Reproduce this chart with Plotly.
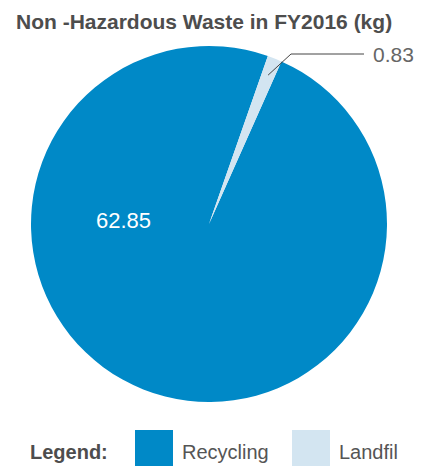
import math
import plotly.graph_objects as go

# Waste streams and quantities (kg)
categories = ["Recycling", "Landfil"]
values = [62.85, 0.83]
colors = ["#0089c7", "#d3e5f1"]
title_text = "Non -Hazardous Waste in FY2016 (kg)"

W, H = 421, 466
cx, cy, R = 209, 224, 178  # pie centre and radius in pixels
ROT = 24  # start angle of the first slice, clockwise from 12 o'clock


def px(x):
    return x / W


def py(y):
    return 1 - y / H


fig = go.Figure(
    go.Pie(
        labels=categories,
        values=values,
        marker=dict(colors=colors, line=dict(width=0)),
        sort=False,
        direction="clockwise",
        rotation=ROT,
        textinfo="none",
        hoverinfo="label+value",
        showlegend=False,
        domain=dict(x=[px(cx - R), px(cx + R)], y=[py(cy + R), py(cy - R)]),
    )
)

annotations = []
shapes = []

# Title
annotations.append(dict(
    x=px(14), y=py(21), xref="paper", yref="paper", xanchor="left", yanchor="middle",
    text="<b>" + title_text + "</b>", showarrow=False,
    font=dict(family="Liberation Sans, Arial, sans-serif", size=21, color="#4d4d4d"),
))

# Value label inside the large slice
annotations.append(dict(
    x=px(124), y=py(221), xref="paper", yref="paper", xanchor="center", yanchor="middle",
    text=f"{values[0]:.2f}", showarrow=False,
    font=dict(family="Liberation Sans, Arial, sans-serif", size=22, color="#ffffff"),
))

# Leader line for the small slice, starting at its mid-angle
total = sum(values)
end_angle = ROT + 360
mid = math.radians(end_angle - 360 * values[1] / total / 2)
sx = cx + 0.9 * R * math.sin(mid)
sy = cy - 0.9 * R * math.cos(mid)
elbow_x, line_y, end_x = 291, 54, 364
shapes.append(dict(
    type="path", xref="paper", yref="paper",
    path=f"M {px(sx)} {py(sy)} L {px(elbow_x)} {py(line_y)} L {px(end_x)} {py(line_y)}",
    line=dict(color="#444444", width=1),
))
annotations.append(dict(
    x=px(371), y=py(line_y), xref="paper", yref="paper", xanchor="left", yanchor="middle",
    text=f"{values[1]:.2f}", showarrow=False,
    font=dict(family="Liberation Sans, Arial, sans-serif", size=21, color="#666666"),
))

# Legend row
legend_y = 452
annotations.append(dict(
    x=px(28), y=py(legend_y), xref="paper", yref="paper", xanchor="left", yanchor="middle",
    text="<b>Legend:</b>", showarrow=False,
    font=dict(family="Liberation Sans, Arial, sans-serif", size=20, color="#4d4d4d"),
))
swatch_x = [135, 292]
for name, col, sxp in zip(categories, colors, swatch_x):
    shapes.append(dict(
        type="rect", xref="paper", yref="paper",
        x0=px(sxp), x1=px(sxp + 38), y0=py(468), y1=py(430),
        fillcolor=col, line=dict(width=0),
    ))
    annotations.append(dict(
        x=px(sxp + 45), y=py(legend_y), xref="paper", yref="paper",
        xanchor="left", yanchor="middle", text=name, showarrow=False,
        font=dict(family="Liberation Sans, Arial, sans-serif", size=20, color="#555555"),
    ))

fig.update_layout(
    width=W, height=H,
    margin=dict(l=0, r=0, t=0, b=0),
    paper_bgcolor="#ffffff",
    plot_bgcolor="#ffffff",
    annotations=annotations,
    shapes=shapes,
)

fig.write_html("out.html")
